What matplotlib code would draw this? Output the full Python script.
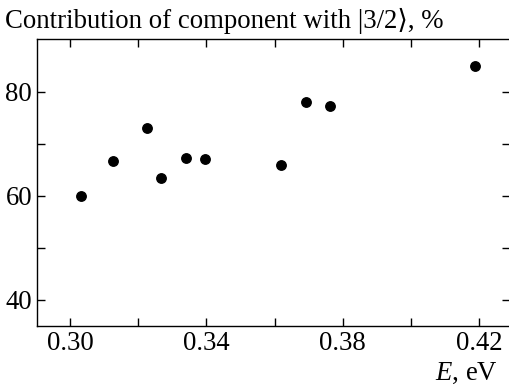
import matplotlib
matplotlib.use("Agg")
import matplotlib.pyplot as plt
from matplotlib.ticker import FixedLocator

plt.rcParams['font.family'] = ['Liberation Serif', 'DejaVu Serif']
plt.rcParams['mathtext.fontset'] = 'custom'
plt.rcParams['mathtext.rm'] = 'Liberation Serif'
plt.rcParams['mathtext.it'] = 'Liberation Serif:italic'

# data
energy = [0.3032, 0.3125, 0.3227, 0.3266, 0.3339, 0.3395, 0.3620, 0.3691, 0.3762, 0.4188]
contrib = [60.0, 66.6, 73.1, 63.4, 67.2, 67.0, 65.9, 78.1, 77.2, 84.9]
xticks = [0.30, 0.34, 0.38, 0.42]
xlabels = ['0.30', '0.34', '0.38', '0.42']
yticks = [40, 60, 80]

fig = plt.figure(figsize=(5.1, 3.87), dpi=100)
ax = fig.add_axes([37/510, 1-326/387, 1-37/510, (326-39)/387])

ax.plot(energy, contrib, 'o', color='black', markersize=6.8)

ax.set_xlim(0.2903, 0.4291)
ax.set_ylim(35, 90.1)
ax.set_xticks(xticks)
ax.set_xticklabels(xlabels)
ax.xaxis.set_minor_locator(FixedLocator([0.32, 0.36, 0.40]))
ax.set_yticks(yticks)
ax.yaxis.set_minor_locator(FixedLocator([50, 70]))

ax.tick_params(which='both', direction='in', top=True, right=True,
               length=6, width=1, labelsize=19.3, pad=3.5)
ax.spines['right'].set_visible(False)
for sp in ['left', 'bottom', 'top']:
    ax.spines[sp].set_linewidth(1)

fig.text(5/510, 1-28/387, 'Contribution of component with |3/2\u27e9, %',
         fontsize=19.3, ha='left', va='baseline')
fig.text(498/510, 1-380/387, r'$\mathit{E}$, eV', fontsize=19.3,
         ha='right', va='baseline')

fig.savefig('out.png', dpi=100)
